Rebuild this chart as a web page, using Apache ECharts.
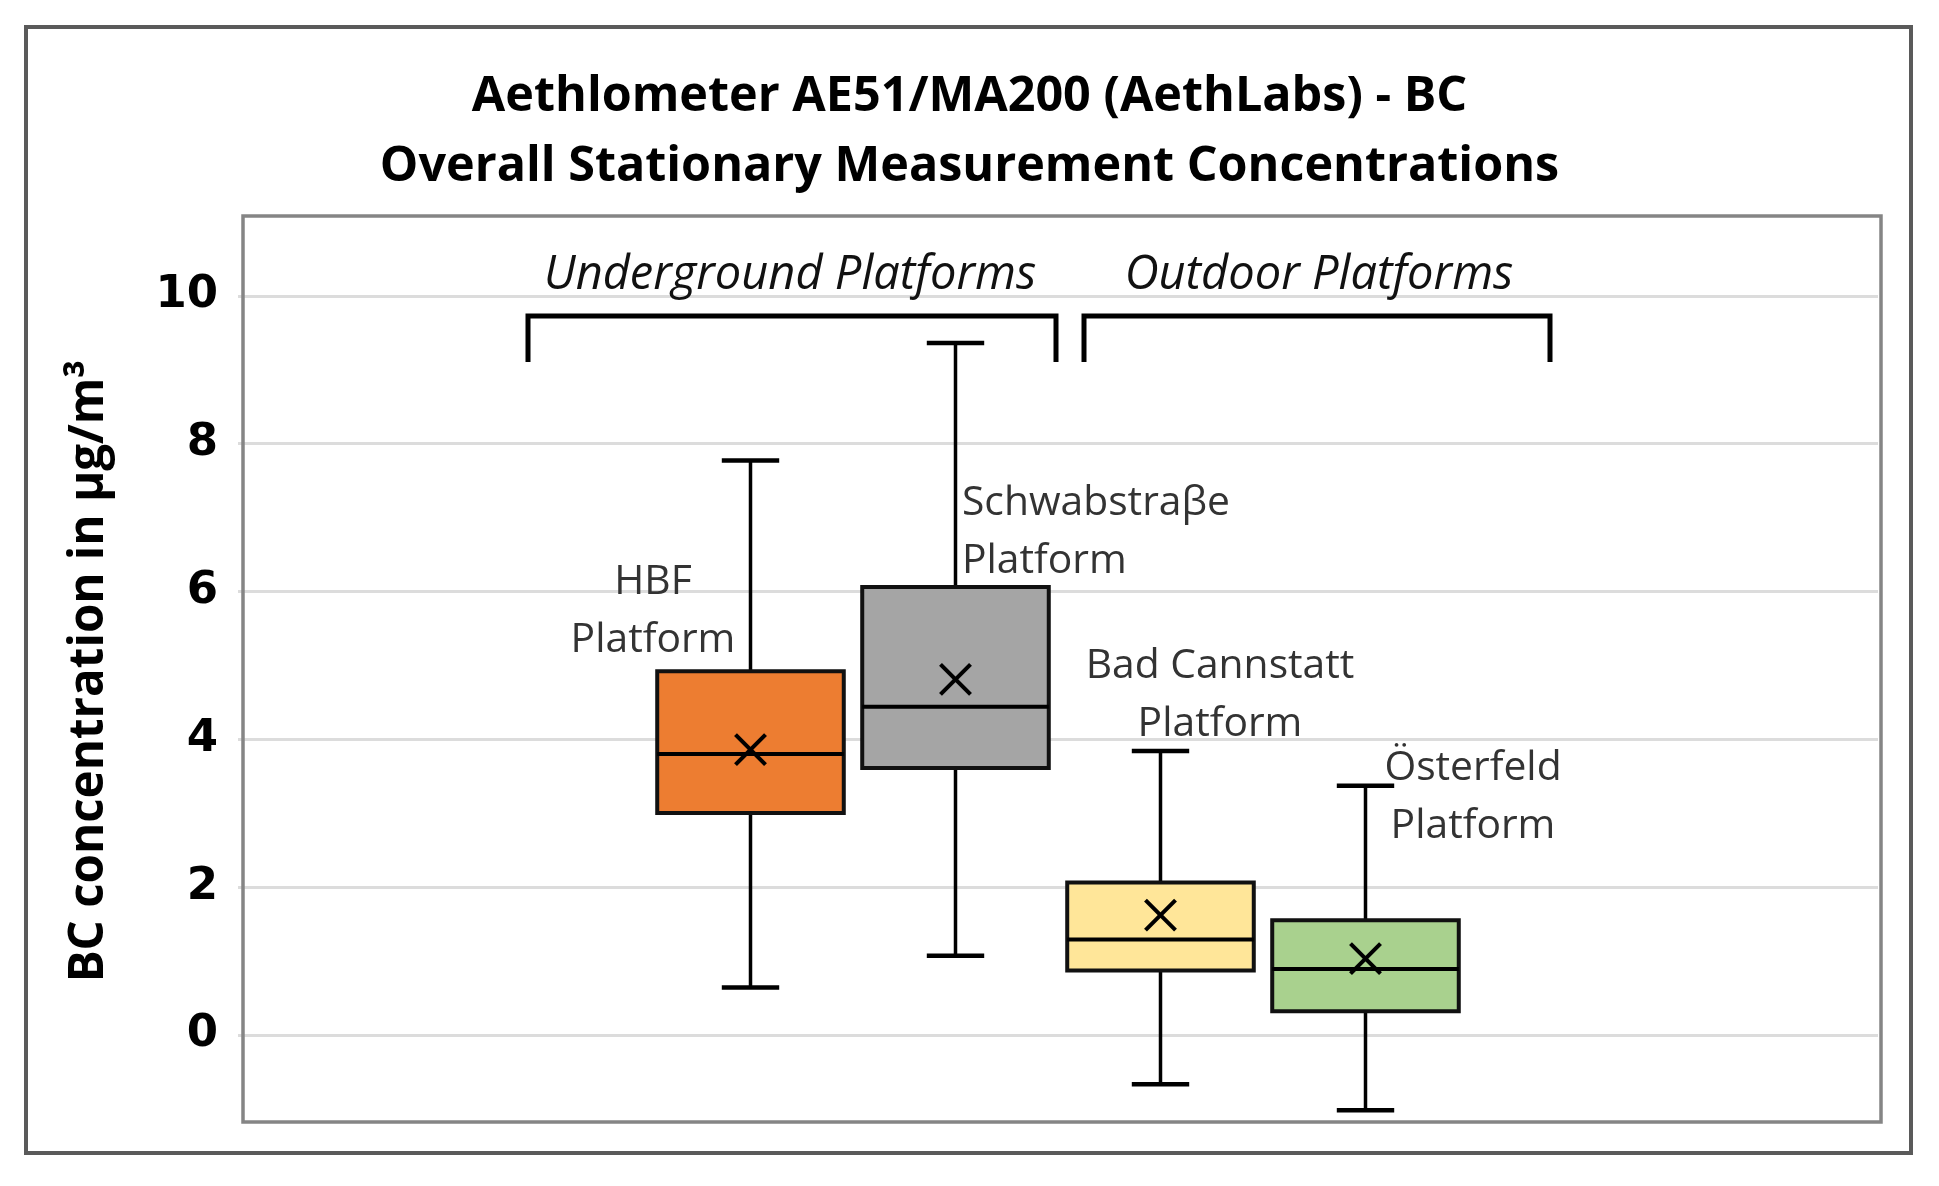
<!DOCTYPE html>
<html>
<head>
<meta charset="utf-8">
<title>Aethlometer AE51/MA200 - BC</title>
<script src="https://cdn.jsdelivr.net/npm/echarts@6/dist/echarts.min.js"></script>
<style>
    html, body { margin: 0; padding: 0; background: #fff; }
    #Echarts1 { width: 1939px; height: 1186px; }
</style>
</head>
<body>
<div id="Echarts1"></div>
<script>
/************** 数据 ***************/
// 各站台名称
var stations = ['HBF', 'Schwabstraβe', 'Bad Cannstatt', 'Österfeld'];
// 类目轴两侧的空位（Excel 里箱子只占中间四格）
var padLeft = ['', ' '];
var padRight = ['  ', '   '];
// 箱线图数值 (µg/m³)
var whiskerMin = [0.64, 1.07, -0.67, -1.02];
var quartile1 = [3.00, 3.61, 0.87, 0.32];
var medians = [3.80, 4.44, 1.29, 0.89];
var quartile3 = [4.92, 6.06, 2.06, 1.55];
var whiskerMax = [7.77, 9.36, 3.84, 3.37];
var means = [3.86, 4.81, 1.62, 1.03];
// y 轴刻度
var yTicks = [0, 2, 4, 6, 8, 10];

var boxColors = ['#ED7D31', '#A5A5A5', '#FFE699', '#A9D18E'];

/*************** 初始化 *********************/
initChart();

/**
 * 画每个箱子：须线、端帽、箱体、中位线、均值 X
 * */
function renderBox(params, api) {
    var cat = api.value(0);
    var band = api.size([1, 0])[0];
    var boxW = band * 0.91;
    var capW = band * 0.28;
    var pMin = api.coord([cat, api.value(1)]);
    var pQ1 = api.coord([cat, api.value(2)]);
    var pMed = api.coord([cat, api.value(3)]);
    var pQ3 = api.coord([cat, api.value(4)]);
    var pMax = api.coord([cat, api.value(5)]);
    var pMean = api.coord([cat, api.value(6)]);
    var cx = pMed[0];
    var line = { stroke: '#000', lineWidth: 3.5 };
    var xs = 15;

    return {
        type: 'group',
        children: [
            { type: 'line', shape: { x1: cx, y1: pMax[1], x2: cx, y2: pQ3[1] }, style: line },
            { type: 'line', shape: { x1: cx, y1: pQ1[1], x2: cx, y2: pMin[1] }, style: line },
            { type: 'line', shape: { x1: cx - capW / 2, y1: pMax[1], x2: cx + capW / 2, y2: pMax[1] }, style: { stroke: '#000', lineWidth: 4.5 } },
            { type: 'line', shape: { x1: cx - capW / 2, y1: pMin[1], x2: cx + capW / 2, y2: pMin[1] }, style: { stroke: '#000', lineWidth: 4.5 } },
            {
                type: 'rect',
                shape: { x: cx - boxW / 2, y: pQ3[1], width: boxW, height: pQ1[1] - pQ3[1] },
                style: { fill: boxColors[params.dataIndex], stroke: '#111', lineWidth: 4 }
            },
            { type: 'line', shape: { x1: cx - boxW / 2, y1: pMed[1], x2: cx + boxW / 2, y2: pMed[1] }, style: { stroke: '#000', lineWidth: 4 } },
            { type: 'line', shape: { x1: cx - xs, y1: pMean[1] - xs, x2: cx + xs, y2: pMean[1] + xs }, style: { stroke: '#000', lineWidth: 4 } },
            { type: 'line', shape: { x1: cx - xs, y1: pMean[1] + xs, x2: cx + xs, y2: pMean[1] - xs }, style: { stroke: '#000', lineWidth: 4 } }
        ]
    };
}

function initChart() {
    var myChart = echarts.init(document.getElementById('Echarts1'));

    var boxData = stations.map(function (name, i) {
        return [name, whiskerMin[i], quartile1[i], medians[i], quartile3[i], whiskerMax[i], means[i]];
    });

    var labelFont = '"Open Sans", sans-serif';

    var option = {
        backgroundColor: '#fff',
        animation: false,
        title: {
            text: 'Aethlometer AE51/MA200 (AethLabs) - BC\nOverall Stationary Measurement Concentrations',
            left: 'center',
            top: 57,
            textStyle: {
                fontFamily: labelFont,
                fontWeight: 'bold',
                fontSize: 48.5,
                lineHeight: 70,
                color: '#000'
            }
        },
        grid: {
            left: 238,
            top: 216,
            width: 1640,
            height: 906
        },
        xAxis: {
            type: 'category',
            data: padLeft.concat(stations, padRight),
            axisLine: { show: false },
            axisTick: { show: false },
            axisLabel: { show: false },
            splitLine: { show: false }
        },
        yAxis: {
            type: 'value',
            min: -1.18,
            max: 11.08,
            axisLine: { show: false },
            axisTick: { show: false, customValues: yTicks },
            axisLabel: {
                customValues: yTicks,
                margin: 20,
                fontFamily: '"DejaVu Sans", sans-serif',
                fontWeight: 'bold',
                fontSize: 45,
                color: '#000',
                padding: [8, 0, 0, 0]
            },
            splitLine: {
                show: true,
                lineStyle: { color: '#dcdcdc', width: 3 }
            }
        },
        graphic: [
            // 外框
            {
                type: 'rect', z: 0, silent: true,
                shape: { x: 26, y: 27, width: 1885, height: 1126 },
                style: { fill: null, stroke: '#5a5a5a', lineWidth: 4 }
            },
            // 绘图区边框
            {
                type: 'rect', z: 50, silent: true,
                shape: { x: 243, y: 216, width: 1638, height: 906 },
                style: { fill: null, stroke: '#858585', lineWidth: 3.5 }
            },
            // y 轴标题
            {
                type: 'text', z: 50, x: 89, y: 671, rotation: Math.PI / 2,
                style: {
                    text: 'BC concentration in µg/m³',
                    align: 'center', verticalAlign: 'middle',
                    font: 'bold 47.5px "Open Sans", sans-serif', fill: '#000'
                }
            },
            // 分组标题与括号
            {
                type: 'text', z: 50, x: 790, y: 276,
                style: {
                    text: 'Underground Platforms', align: 'center', verticalAlign: 'middle',
                    font: 'italic 47px "Open Sans", sans-serif', fill: '#111'
                }
            },
            {
                type: 'text', z: 50, x: 1319, y: 276,
                style: {
                    text: 'Outdoor Platforms', align: 'center', verticalAlign: 'middle',
                    font: 'italic 47px "Open Sans", sans-serif', fill: '#111'
                }
            },
            {
                type: 'polyline', z: 50,
                shape: { points: [[528, 362], [528, 316], [1056, 316], [1056, 362]] },
                style: { stroke: '#000', lineWidth: 5, fill: null }
            },
            {
                type: 'polyline', z: 50,
                shape: { points: [[1084, 362], [1084, 316], [1550, 316], [1550, 362]] },
                style: { stroke: '#000', lineWidth: 5, fill: null }
            },
            // 站台标注
            {
                type: 'text', z: 50, x: 653, y: 611,
                style: {
                    text: stations[0] + '\nPlatform', align: 'center', verticalAlign: 'middle',
                    font: '40.8px "Open Sans", sans-serif', lineHeight: 58, fill: '#333'
                }
            },
            {
                type: 'text', z: 50, x: 962, y: 532,
                style: {
                    text: stations[1] + '\nPlatform', align: 'left', verticalAlign: 'middle',
                    font: '40.8px "Open Sans", sans-serif', lineHeight: 58, fill: '#333'
                }
            },
            {
                type: 'text', z: 50, x: 1220, y: 695,
                style: {
                    text: stations[2] + '\nPlatform', align: 'center', verticalAlign: 'middle',
                    font: '40.8px "Open Sans", sans-serif', lineHeight: 58, fill: '#333'
                }
            },
            {
                type: 'text', z: 50, x: 1473, y: 797,
                style: {
                    text: stations[3] + '\nPlatform', align: 'center', verticalAlign: 'middle',
                    font: '40.8px "Open Sans", sans-serif', lineHeight: 58, fill: '#333'
                }
            }
        ],
        series: [
            {
                name: 'BC',
                type: 'custom',
                renderItem: renderBox,
                encode: { x: 0, y: [1, 2, 3, 4, 5, 6] },
                data: boxData,
                z: 10
            }
        ]
    };

    // 使用刚指定的配置项和数据显示图表。
    myChart.setOption(option);
}
</script>
</body>
</html>
